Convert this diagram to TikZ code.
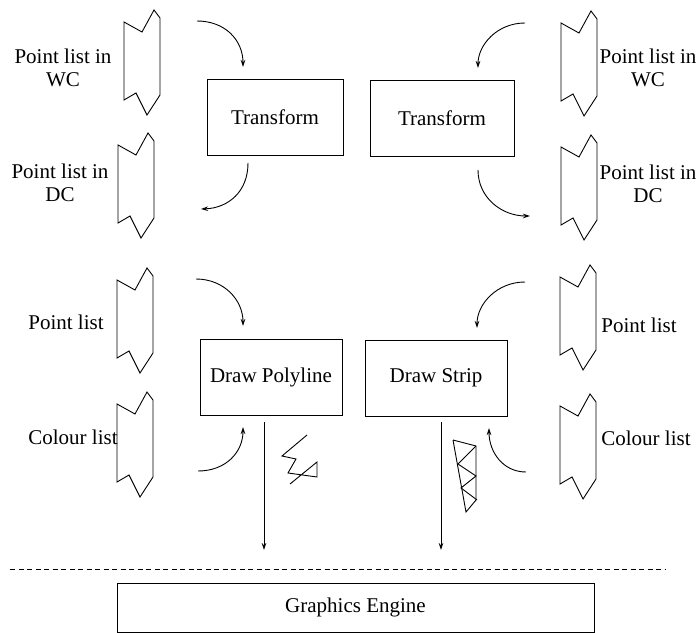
\documentclass[tikz,border=0pt]{standalone}
\usepackage{fontspec}
\setmainfont{Liberation Serif}
\usetikzlibrary{arrows.meta}

\begin{document}
\begin{tikzpicture}[x=1bp, y=-1bp, line width=0.9bp,
	every node/.style={font=\fontsize{21bp}{23bp}\selectfont},
	box/.style={draw, minimum width=142bp, minimum height=76bp, inner sep=0pt},
	lbl/.style={align=center, inner sep=0pt},
	flow/.style={-{Stealth[length=7bp, width=4.5bp]}},
	scroll/.pic={\draw (0,0) -- (18,10) -- (30,-12) -- (36,-4) -- (36,73) -- (23,93) -- (12,71) -- (0,78) -- cycle;}]
	
	% Fixed frame for the whole figure
	\useasboundingbox (0,0) rectangle (700,633);
	
	% --- Data lists (left column) ---
	\pic at (124,22) {scroll};
	\pic at (118,145) {scroll};
	\pic at (117,280) {scroll};
	\pic at (117,404) {scroll};
	\node[lbl] (wcL) at (63,68) {Point list in\\WC};
	\node[lbl] (dcL) at (60,183) {Point list in\\DC};
	\node[lbl] (ptL) at (66,322) {Point list};
	\node[lbl] (colL) at (73,437) {Colour list};
	
	% --- Data lists (right column) ---
	\pic at (561,23) {scroll};
	\pic at (561,147) {scroll};
	\pic at (560,277) {scroll};
	\pic at (560,406) {scroll};
	\node[lbl] (wcR) at (648,68) {Point list in\\WC};
	\node[lbl] (dcR) at (648,184) {Point list in\\DC};
	\node[lbl] (ptR) at (639,325) {Point list};
	\node[lbl] (colR) at (646,438) {Colour list};
	
	% --- Operations ---
	\node[box, minimum width=136bp] (tfL) at (275,117) {Transform};
	\node[box, minimum width=144bp] (tfR) at (442,118) {Transform};
	\node[box] (poly) at (271,377) {Draw Polyline};
	\node[box] (strip) at (436,378) {Draw Strip};
	\node[box, minimum width=477bp, minimum height=49bp] (engine) at (355.5,607.5) {Graphics Engine};
	
	% --- Curved data flows ---
	\coordinate (a1s) at (197,21);  \coordinate (a1e) at (243,67);
	\coordinate (a2s) at (248,163); \coordinate (a2e) at (201,209);
	\coordinate (a3s) at (525,23);  \coordinate (a3e) at (478,68);
	\coordinate (a4s) at (478,170); \coordinate (a4e) at (530,216);
	\coordinate (a5s) at (196,279); \coordinate (a5e) at (243,326);
	\coordinate (a6s) at (198,471); \coordinate (a6e) at (243,427);
	\coordinate (a7s) at (525,282); \coordinate (a7e) at (477,328);
	\coordinate (a8s) at (526,472); \coordinate (a8e) at (489,428);
	\draw[flow] (a1s) .. controls (225,21) and (243,40) .. (a1e);
	\draw[flow] (a2s) .. controls (248,192) and (228,208) .. (a2e);
	\draw[flow] (a3s) .. controls (497,23) and (478,45) .. (a3e);
	\draw[flow] (a4s) .. controls (478,198) and (502,216) .. (a4e);
	\draw[flow] (a5s) .. controls (224,279) and (243,300) .. (a5e);
	\draw[flow] (a6s) .. controls (226,471) and (243,452) .. (a6e);
	\draw[flow] (a7s) .. controls (497,282) and (477,304) .. (a7e);
	\draw[flow] (a8s) .. controls (503,472) and (489,452) .. (a8e);
	
	% --- Output to the engine ---
	\coordinate (polyOut) at (264,550);
	\coordinate (stripOut) at (441,550);
	\draw[flow] ([yshift=-7bp]poly.south -| polyOut) -- (polyOut);
	\draw[flow] ([yshift=-6bp]strip.south -| stripOut) -- (stripOut);
	
	% Polyline sketch
	\draw (307,435) -- (282,456) -- (296,459) -- (288,473) -- (317,477) -- (317,462) -- (290,484);
	% Triangle strip sketch
	\draw (453,440) -- (476,446) -- (476,500) -- (466,512) -- (453,440);
	\draw (476,446) -- (458,464) -- (476,476) -- (461,488) -- (477,500);
	
	% --- Boundary ---
	\draw[dash pattern=on 5bp off 3.5bp] (10,569) -- (665,569);
	
\end{tikzpicture}
\end{document}
